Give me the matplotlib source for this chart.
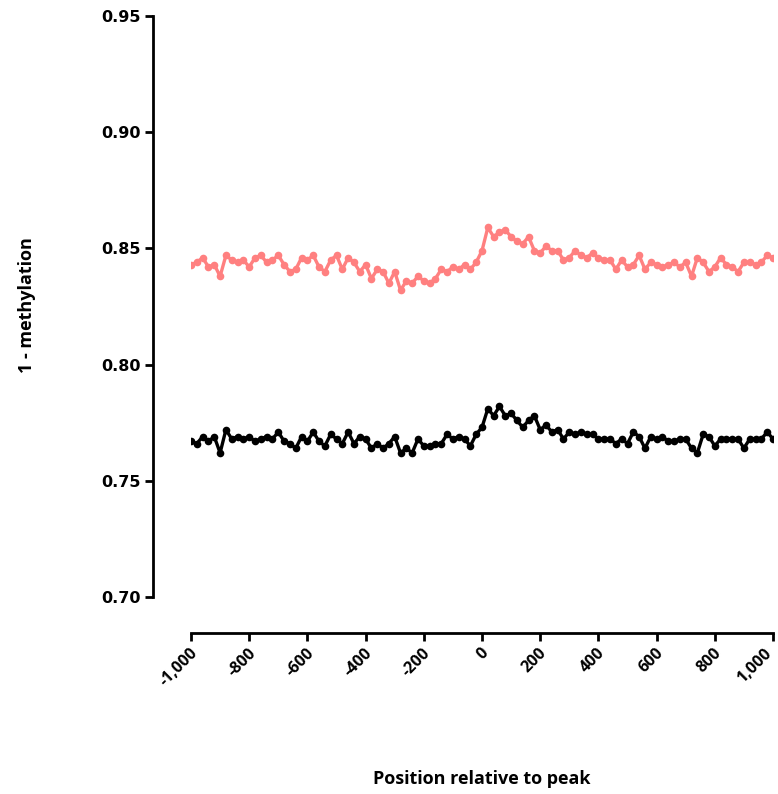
import numpy as np
import matplotlib
matplotlib.use('Agg')
import matplotlib.pyplot as plt
import matplotlib.transforms as mtransforms
from matplotlib.ticker import FuncFormatter

# position relative to peak (bp), step 20
position = np.arange(-1000, 1001, 20)

# pink series
pink_vals = [
    0.843, 0.844, 0.846, 0.842, 0.843, 0.838, 0.847, 0.845, 0.844, 0.845,
    0.842, 0.846, 0.847, 0.844, 0.845, 0.847, 0.843, 0.840, 0.841, 0.846,
    0.845, 0.847, 0.842, 0.840, 0.845, 0.847, 0.841, 0.846, 0.844, 0.840,
    0.843, 0.837, 0.841, 0.840, 0.835, 0.840, 0.832, 0.836, 0.835, 0.838,
    0.836, 0.835, 0.837, 0.841, 0.840, 0.842, 0.841, 0.843, 0.841, 0.844,
    0.849, 0.859, 0.855, 0.857, 0.858, 0.855, 0.853, 0.852, 0.855, 0.849,
    0.848, 0.851, 0.849, 0.849, 0.845, 0.846, 0.849, 0.847, 0.846, 0.848,
    0.846, 0.845, 0.845, 0.841, 0.845, 0.842, 0.843, 0.847, 0.841, 0.844,
    0.843, 0.842, 0.843, 0.844, 0.842, 0.844, 0.838, 0.846, 0.844, 0.840,
    0.842, 0.846, 0.843, 0.842, 0.840, 0.844, 0.844, 0.843, 0.844, 0.847,
    0.846,
]

# black series
black_vals = [
    0.767, 0.766, 0.769, 0.767, 0.769, 0.762, 0.772, 0.768, 0.769, 0.768,
    0.769, 0.767, 0.768, 0.769, 0.768, 0.771, 0.767, 0.766, 0.764, 0.769,
    0.767, 0.771, 0.767, 0.765, 0.770, 0.768, 0.766, 0.771, 0.766, 0.769,
    0.768, 0.764, 0.766, 0.764, 0.766, 0.769, 0.762, 0.764, 0.762, 0.768,
    0.765, 0.765, 0.766, 0.766, 0.770, 0.768, 0.769, 0.768, 0.765, 0.770,
    0.773, 0.781, 0.778, 0.782, 0.778, 0.779, 0.776, 0.773, 0.776, 0.778,
    0.772, 0.774, 0.771, 0.772, 0.768, 0.771, 0.770, 0.771, 0.770, 0.770,
    0.768, 0.768, 0.768, 0.766, 0.768, 0.766, 0.771, 0.769, 0.764, 0.769,
    0.768, 0.769, 0.767, 0.767, 0.768, 0.768, 0.764, 0.762, 0.770, 0.769,
    0.765, 0.768, 0.768, 0.768, 0.768, 0.764, 0.768, 0.768, 0.768, 0.771,
    0.768,
]

x_ticks = np.arange(-1000, 1001, 200)
y_ticks = [0.70, 0.75, 0.80, 0.85, 0.90, 0.95]

W, H = 778, 794
fig = plt.figure(figsize=(W / 100, H / 100), dpi=100)
ax = fig.add_axes([191 / W, 1 - 597 / H, 582 / W, 581 / H])

ax.plot(position, pink_vals, color='#FF8080', lw=2.4, marker='o', ms=5.5, mew=0)
ax.plot(position, black_vals, color='black', lw=2.4, marker='o', ms=5.5, mew=0)

ax.set_xlim(-1000, 1000)
ax.set_ylim(0.70, 0.95)
ax.set_xticks(x_ticks)
ax.set_yticks(y_ticks)
ax.xaxis.set_major_formatter(FuncFormatter(lambda v, p: f'{int(v):,}'))
ax.yaxis.set_major_formatter(FuncFormatter(lambda v, p: f'{v:.2f}'))

for s in ['top', 'right']:
    ax.spines[s].set_visible(False)
# offsets are in points (0.72 pt per pixel at 100 dpi)
ax.spines['left'].set_position(('outward', 38 * 0.72))
ax.spines['bottom'].set_position(('outward', 36 * 0.72))
for s in ['left', 'bottom']:
    ax.spines[s].set_linewidth(2)
ax.tick_params(width=2, length=6)
ax.tick_params(axis='y', pad=3)
ax.tick_params(axis='x', pad=7)

for lab in ax.get_yticklabels():
    lab.set_fontsize(11.5)
    lab.set_fontweight('bold')
    lab.set_family('DejaVu Sans')

xlabels = ax.get_xticklabels()
for i, lab in enumerate(xlabels):
    lab.set_fontsize(11.5)
    lab.set_fontweight('bold')
    lab.set_family('Open Sans')
    lab.set_rotation(45)
    lab.set_ha('right')
    lab.set_va('center')
    lab.set_rotation_mode('anchor')
    # nudge right like the original, but keep the last one inside the canvas
    dx = 3 if i < len(xlabels) - 1 else -3
    lab.set_transform(lab.get_transform() +
                      mtransforms.ScaledTranslation(dx / 72, 0, fig.dpi_scale_trans))

fig.text(27 / W, 1 - 305 / H, '1 - methylation', fontsize=13, fontweight='bold',
         family='Open Sans', rotation=90, ha='center', va='center')
fig.text(482 / W, 1 - 779 / H, 'Position relative to peak', fontsize=13, fontweight='bold',
         family='Open Sans', ha='center', va='center')

fig.savefig('out.png', dpi=100)
